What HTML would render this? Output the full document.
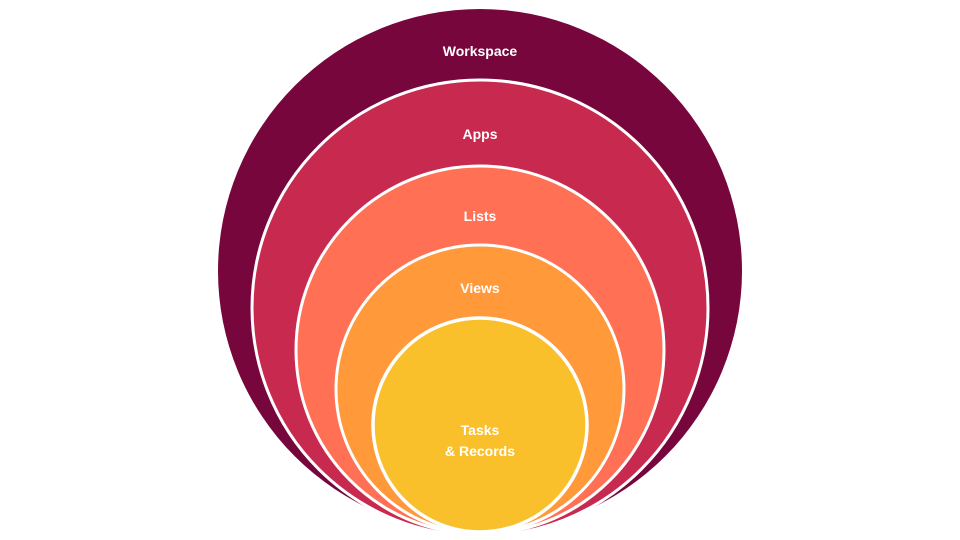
<!DOCTYPE html>
<html><head><meta charset="utf-8"><style>
html,body{margin:0;padding:0;background:#fff;}
svg{display:block;}
text{font-family:"Liberation Sans",sans-serif;font-weight:bold;font-size:14px;fill:#fff;text-anchor:middle;}
</style></head><body>
<svg width="960" height="540" viewBox="0 0 960 540">
<circle cx="480" cy="271" r="262" fill="#77063C"/>
<circle cx="480" cy="308" r="228" fill="#C8294E" stroke="#fff" stroke-width="3"/>
<circle cx="480" cy="350" r="184" fill="#FF7055" stroke="#fff" stroke-width="3"/>
<circle cx="480" cy="389" r="144" fill="#FF993A" stroke="#fff" stroke-width="3"/>
<circle cx="480" cy="425" r="107" fill="#F9C02B" stroke="#fff" stroke-width="3.5"/>
<text x="480" y="56">Workspace</text>
<text x="480" y="139">Apps</text>
<text x="480" y="221">Lists</text>
<text x="480" y="293">Views</text>
<text x="480" y="435">Tasks</text>
<text x="480" y="456">&amp; Records</text>
</svg>
</body></html>
